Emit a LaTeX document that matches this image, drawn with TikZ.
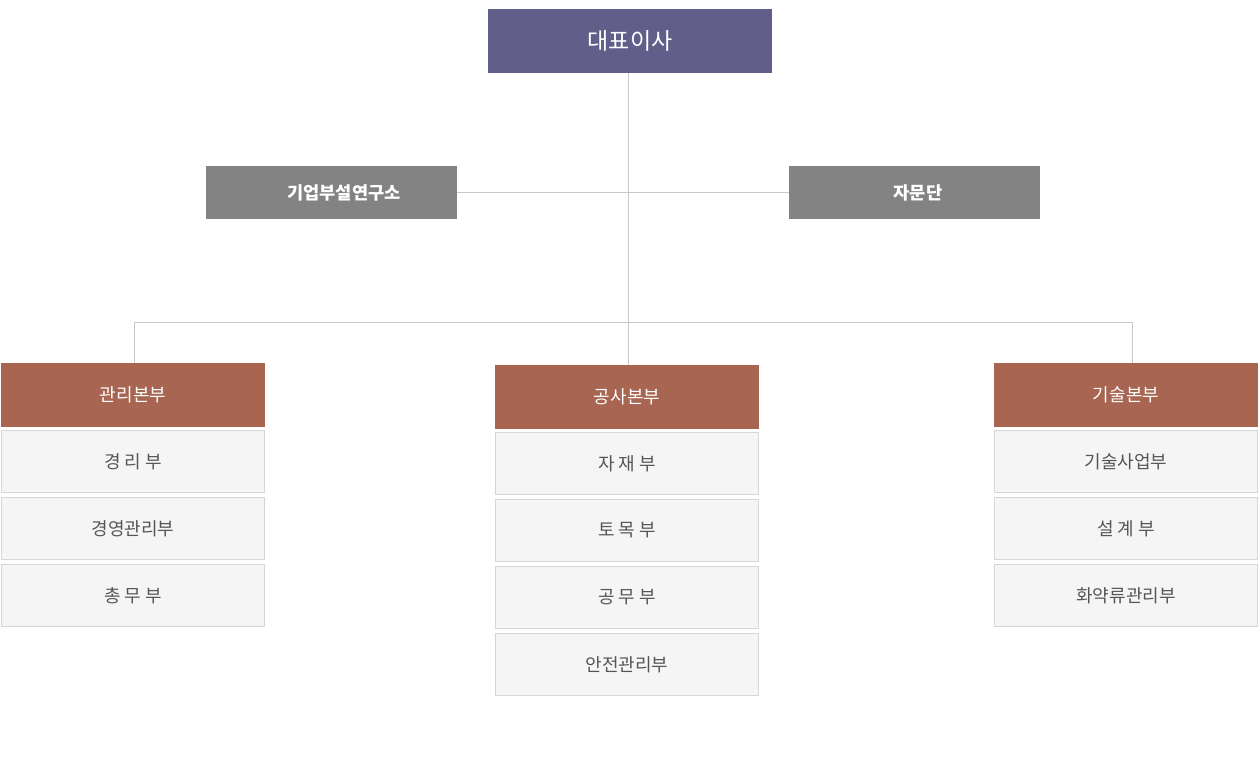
\documentclass[tikz,border=0pt]{standalone}
\usepackage{fontspec}
\setmainfont{Noto Sans CJK KR}
\usetikzlibrary{positioning}
\definecolor{ceopurple}{RGB}{98,94,138}
\definecolor{staffgray}{RGB}{131,131,131}
\definecolor{divbrown}{RGB}{168,101,82}
\definecolor{deptfill}{RGB}{245,245,245}
\definecolor{deptline}{RGB}{214,214,214}
\definecolor{depttext}{RGB}{85,85,85}
\definecolor{linkgray}{RGB}{200,200,200}
\tikzstyle{ceo} = [rectangle, minimum width=284pt, minimum height=64pt, inner sep=0pt, outer sep=0pt, fill=ceopurple, text=white, font=\fontsize{23}{27}\selectfont]
\tikzstyle{staff} = [rectangle, minimum width=251pt, minimum height=53pt, inner sep=0pt, outer sep=0pt, fill=staffgray, text=white, font=\fontsize{17.6}{21}\selectfont\bfseries]
\tikzstyle{division} = [rectangle, minimum width=264pt, minimum height=64pt, inner sep=0pt, outer sep=0pt, fill=divbrown, text=white, font=\fontsize{18}{22}\selectfont]
\tikzstyle{dept} = [rectangle, minimum width=263pt, minimum height=62pt, inner sep=0pt, outer sep=0pt, line width=1pt, fill=deptfill, draw=deptline, text=depttext, font=\fontsize{18}{22}\selectfont]
\tikzstyle{link} = [line width=1pt, draw=linkgray]

\begin{document}
\begin{tikzpicture}[x=1pt, y=-1pt, node distance=5pt]
\useasboundingbox (0,0) rectangle (1259,770);

% CEO and staff
\node[ceo] (ceo) at (630,41) {대표이사};
\node[staff] (research) at (331.5,193) {\hspace*{25pt}기업부설연구소};
\node[staff] (advisory) at (914.5,193) {\hspace*{7pt}자문단};

% Divisions
\node[division] (gwanri) at (133,395) {관리본부};
\node[division] (gongsa) at (627,397) {공사본부};
\node[division] (gisul) at (1126,395) {기술본부};

% Departments
\node[dept, below=3.5pt of gwanri] (gw1) {경 리 부};
\node[dept, below=of gw1] (gw2) {경영관리부};
\node[dept, below=of gw2] (gw3) {총 무 부};

\node[dept, below=3.5pt of gongsa] (gs1) {자 재 부};
\node[dept, below=of gs1] (gs2) {토 목 부};
\node[dept, below=of gs2] (gs3) {공 무 부};
\node[dept, below=of gs3] (gs4) {안전관리부};

\node[dept, below=3.5pt of gisul] (gi1) {기술사업부};
\node[dept, below=of gi1] (gi2) {설 계 부};
\node[dept, below=of gi2] (gi3) {화약류관리부};

% Lines
\coordinate (bus) at (628,322);
\coordinate (busL) at (134,322);
\coordinate (busR) at (1132,322);
\draw[link] (gongsa.north -| bus) -- (ceo.south -| bus);
\draw[link] (research.east) -- (advisory.west);
\draw[link] (gwanri.north -| busL) -- (busL) -- (busR) -- (gisul.north -| busR);
\end{tikzpicture}
\end{document}
